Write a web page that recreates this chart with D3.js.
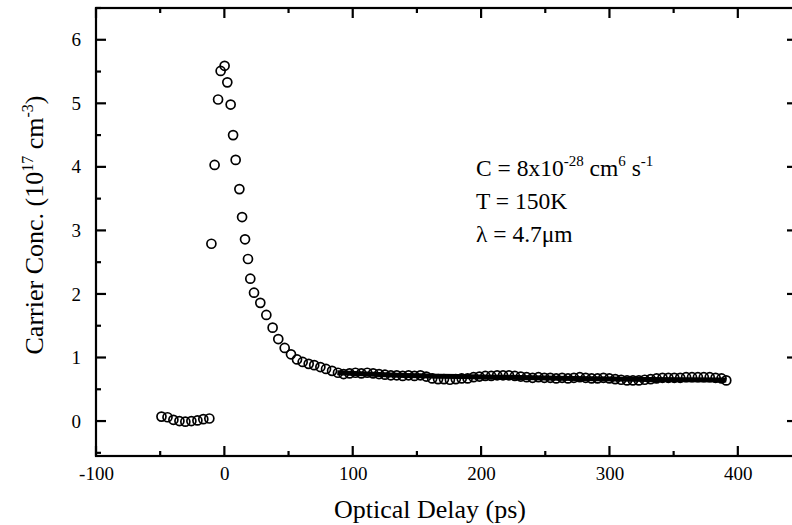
<!DOCTYPE html>
<html><head><meta charset="utf-8">
<script src="https://cdn.jsdelivr.net/npm/d3@7/dist/d3.min.js"></script>
<style>body{margin:0;background:#fff;overflow:hidden}svg{display:block}</style>
</head><body>
<svg id="chart" width="792" height="525"></svg>
<script>
// ---- data ----
const delays = [
  -49, -44.3, -39.7, -35, -30.4, -25.7, -21, -16.4, -11.7,
  -10.1, -7.6, -4.9, -2.9, 0.2, 2.3, 4.9, 6.8, 8.8, 11.7, 13.8, 16.1, 18.4, 20.2, 23.1,
  28, 32.7, 37.6, 42, 47, 51.9, 56.6, 61, 65.7, 70, 74.8, 79.2, 83.9, 88.5, 92.9,
  97.5, 102.1, 106.7, 111.3, 115.9, 120.5, 125.1, 129.7, 134.3, 138.9, 143.5, 148.1, 152.7, 157.3,
  161.9, 166.5, 171.1, 175.7, 180.3, 184.9, 189.5, 194.1, 198.7, 203.3, 207.9, 212.5, 217.1, 221.7,
  226.3, 230.9, 235.5, 240.1, 244.7, 249.3, 253.9, 258.5, 263.1, 267.7, 272.3, 276.9, 281.5, 286.1,
  290.7, 295.3, 299.9, 304.5, 309.1, 313.7, 318.3, 322.9, 327.5, 332.1, 336.7, 341.3, 345.9, 350.5,
  355.1, 359.7, 364.3, 368.9, 373.5, 378.1, 382.7, 387.3, 391
];
const concentrations = [
  0.07, 0.06, 0.02, 0.0, -0.01, 0.0, 0.01, 0.03, 0.04,
  2.79, 4.03, 5.06, 5.51, 5.59, 5.33, 4.98, 4.50, 4.11, 3.65, 3.21, 2.86, 2.55, 2.24, 2.02,
  1.86, 1.67, 1.47, 1.29, 1.15, 1.05, 0.97, 0.93, 0.90, 0.88, 0.85, 0.82, 0.79, 0.76, 0.74,
  0.75, 0.76, 0.75, 0.76, 0.75, 0.74, 0.73, 0.72, 0.72, 0.71, 0.72, 0.71, 0.72, 0.70,
  0.67, 0.66, 0.66, 0.65, 0.66, 0.67, 0.67, 0.69, 0.70, 0.71, 0.71, 0.72, 0.72, 0.72,
  0.71, 0.70, 0.69, 0.68, 0.69, 0.68, 0.68, 0.67, 0.68, 0.67, 0.68, 0.69, 0.68, 0.67,
  0.67, 0.68, 0.67, 0.66, 0.65, 0.64, 0.64, 0.64, 0.65, 0.66, 0.67, 0.68, 0.68, 0.68,
  0.68, 0.69, 0.69, 0.69, 0.69, 0.69, 0.68, 0.67, 0.64
];
const fitDelays = [88, 130, 200, 260, 330, 391];
const fitConcs  = [0.76, 0.725, 0.695, 0.675, 0.655, 0.645];
const xTickValues = [-100, 0, 100, 200, 300, 400];
const xMinorTicks = [-50, 50, 150, 250, 350, 450];
const yTickValues = [0, 1, 2, 3, 4, 5, 6];
const yMinorTicks = [-0.5, 0.5, 1.5, 2.5, 3.5, 4.5, 5.5, 6.5];

// ---- drawing ----
const svg = d3.select("#chart");
const L = 96, R = 802, T = 8, B = 456;
const x = d3.scaleLinear().domain([-100, 450]).range([L, R]);
const y = d3.scaleLinear().domain([-0.55, 6.5]).range([B, T]);
const font = "'Liberation Serif','Times New Roman',serif";
const MAJ = 10, MIN = 5;
const fmt = d => String(d);

function styleAxis(g) {
  g.select(".domain").remove();
  g.selectAll("line").remove();
  g.selectAll("text").attr("font-family", font).attr("font-size", 19).attr("fill", "#000");
}
svg.append("g").attr("transform", `translate(0,${B})`)
  .call(d3.axisBottom(x).tickValues(xTickValues).tickSize(0).tickPadding(11).tickFormat(fmt))
  .call(styleAxis);
svg.append("g").attr("transform", `translate(${L},0)`)
  .call(d3.axisLeft(y).tickValues(yTickValues).tickSize(0).tickPadding(15).tickFormat(fmt))
  .call(styleAxis);

// frame
svg.append("rect").attr("x", L).attr("y", T).attr("width", R - L).attr("height", B - T)
  .attr("fill", "none").attr("stroke", "#000").attr("stroke-width", 2.2);

// tick marks (inward, all four sides)
const tk = svg.append("g").attr("stroke", "#000").attr("stroke-width", 2.2);
tk.selectAll("line.xb").data(xTickValues.concat(xMinorTicks)).join("line").attr("class", "xb")
  .attr("x1", d => x(d)).attr("x2", d => x(d)).attr("y1", B)
  .attr("y2", d => B - (xTickValues.includes(d) ? MAJ : MIN));
tk.selectAll("line.xt").data(xTickValues.concat(xMinorTicks)).join("line").attr("class", "xt")
  .attr("x1", d => x(d)).attr("x2", d => x(d)).attr("y1", T)
  .attr("y2", d => T + (xTickValues.includes(d) ? MAJ : MIN));
tk.selectAll("line.yl").data(yTickValues.concat(yMinorTicks)).join("line").attr("class", "yl")
  .attr("y1", d => y(d)).attr("y2", d => y(d)).attr("x1", L)
  .attr("x2", d => L + (yTickValues.includes(d) ? MAJ : MIN));
tk.selectAll("line.yr").data(yTickValues.concat(yMinorTicks)).join("line").attr("class", "yr")
  .attr("y1", d => y(d)).attr("y2", d => y(d)).attr("x1", R)
  .attr("x2", d => R - (yTickValues.includes(d) ? MAJ + 5 : MIN + 5));

// fit line
const fitData = fitDelays.map((d, i) => [d, fitConcs[i]]);
svg.append("path").datum(fitData)
  .attr("d", d3.line().x(d => x(d[0])).y(d => y(d[1])).curve(d3.curveMonotoneX))
  .attr("fill", "none").attr("stroke", "#000").attr("stroke-width", 5);

// points
const pts = delays.map((d, i) => [d, concentrations[i]]);
svg.append("g").selectAll("circle").data(pts).join("circle")
  .attr("cx", d => x(d[0])).attr("cy", d => y(d[1])).attr("r", 4.5)
  .attr("fill", "none").attr("stroke", "#000").attr("stroke-width", 1.7);

// axis titles
svg.append("text").attr("x", 430).attr("y", 518).attr("text-anchor", "middle")
  .attr("font-family", font).attr("font-size", 26).text("Optical Delay (ps)");

const yt = svg.append("text").attr("transform", `translate(43,225) rotate(-90)`)
  .attr("text-anchor", "middle").attr("font-family", font).attr("font-size", 26);
yt.append("tspan").text("Carrier Conc. (10");
yt.append("tspan").attr("font-size", 16).attr("dy", -10).text("17");
yt.append("tspan").attr("dy", 10).text(" cm");
yt.append("tspan").attr("font-size", 16).attr("dy", -10).text("-3");
yt.append("tspan").attr("dy", 10).text(")");

// annotation
const ann = svg.append("g").attr("font-family", font).attr("font-size", 23.5);
const a1 = ann.append("text").attr("x", 476).attr("y", 176);
a1.append("tspan").text("C = 8x10");
a1.append("tspan").attr("font-size", 15).attr("dy", -10).text("-28");
a1.append("tspan").attr("dy", 10).text(" cm");
a1.append("tspan").attr("font-size", 15).attr("dy", -10).text("6");
a1.append("tspan").attr("dy", 10).text(" s");
a1.append("tspan").attr("font-size", 15).attr("dy", -10).text("-1");
ann.append("text").attr("x", 476).attr("y", 209).text("T = 150K");
ann.append("text").attr("x", 476).attr("y", 242).text("λ = 4.7μm");
</script>
</body></html>
